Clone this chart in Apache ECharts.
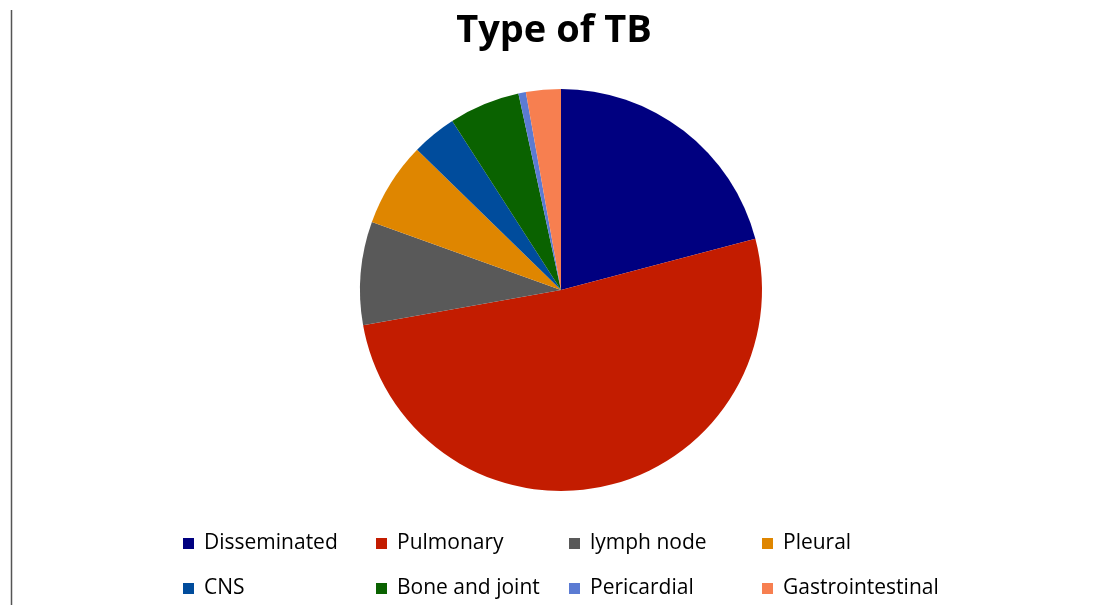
<!DOCTYPE html>
<html>
<head>
<meta charset="utf-8">
<script src="https://cdn.jsdelivr.net/npm/echarts@6/dist/echarts.min.js"></script>
<style>
  html, body { margin: 0; padding: 0; background: #fff; }
  #chart { width: 1108px; height: 605px; }
</style>
</head>
<body>
<div id="chart"></div>
<script>
// share of each TB type
const categories = ["Disseminated", "Pulmonary", "lymph node", "Pleural", "CNS", "Bone and joint", "Pericardial", "Gastrointestinal"];
const values = [20.9, 51.3, 8.3, 6.8, 3.6, 5.7, 0.6, 2.8];
const colors = ["#000080", "#c31c00", "#595959", "#df8600", "#004c9c", "#0a6200", "#5b7bd3", "#f77f50"];

const chart = echarts.init(document.getElementById("chart"));

const option = {
  backgroundColor: "#fff",
  animation: false,
  title: {
    text: "Type of TB",
    left: "center",
    top: 7,
    textStyle: {
      fontFamily: "Open Sans",
      fontWeight: "bold",
      fontSize: 38,
      color: "#000"
    }
  },
  legend: {
    left: 178,
    top: 516,
    width: 790,
    itemGap: 0,
    itemWidth: 11,
    itemHeight: 11,
    icon: "rect",
    data: categories,
    textStyle: {
      fontFamily: "Open Sans",
      fontSize: 21,
      color: "#000",
      width: 172,
      lineHeight: 45,
      padding: [0, 0, 0, 5]
    }
  },
  graphic: [
    {
      type: "line",
      shape: { x1: 11.5, y1: 10, x2: 11.5, y2: 605 },
      style: { stroke: "#555", lineWidth: 1.5 }
    }
  ],
  series: [
    {
      type: "pie",
      center: [561, 290],
      radius: 201,
      startAngle: 90,
      clockwise: true,
      label: { show: false },
      labelLine: { show: false },
      emphasis: { disabled: true },
      data: categories.map((name, i) => ({
        name: name,
        value: values[i],
        itemStyle: { color: colors[i] }
      }))
    }
  ]
};

chart.setOption(option);
</script>
</body>
</html>
